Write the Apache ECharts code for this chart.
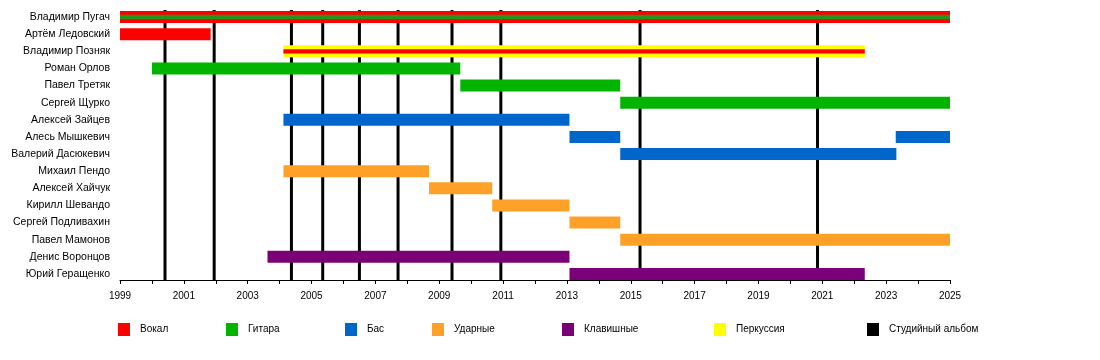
<!DOCTYPE html>
<html>
<head>
<meta charset="utf-8">
<script src="https://cdn.jsdelivr.net/npm/echarts@6/dist/echarts.min.js"></script>
<style>html,body{margin:0;padding:0;background:#fff}#c{width:1100px;height:360px}</style>
</head>
<body>
<div id="c"></div>
<script>
const members = ['Владимир Пугач','Артём Ледовский','Владимир Позняк','Роман Орлов','Павел Третяк','Сергей Щурко','Алексей Зайцев','Алесь Мышкевич','Валерий Дасюкевич','Михаил Пендо','Алексей Хайчук','Кирилл Шевандо','Сергей Подливахин','Павел Мамонов','Денис Воронцов','Юрий Геращенко'];
const vocals = [['Владимир Пугач',1999,2025],['Артём Ледовский',1999,2001.84]];
const vocalStripes = [['Владимир Позняк',2004.12,2022.33]];
const guitar = [['Роман Орлов',2000.0,2009.66],['Павел Третяк',2009.66,2014.67],['Сергей Щурко',2014.67,2025]];
const guitarStripes = [['Владимир Пугач',1999,2025]];
const bass = [['Алексей Зайцев',2004.12,2013.08],['Алесь Мышкевич',2013.08,2014.67],['Алесь Мышкевич',2023.3,2025],['Валерий Дасюкевич',2014.67,2023.32]];
const drums = [['Михаил Пендо',2004.12,2008.68],['Алексей Хайчук',2008.68,2010.66],['Кирилл Шевандо',2010.66,2013.08],['Сергей Подливахин',2013.08,2014.67],['Павел Мамонов',2014.67,2025]];
const keyboards = [['Денис Воронцов',2003.62,2013.08],['Юрий Геращенко',2013.08,2022.33]];
const percussion = [['Владимир Позняк',2004.12,2022.33]];
const albums = [2000.41,2001.95,2004.37,2005.35,2006.5,2007.71,2009.4,2010.93,2015.29,2020.85];
const legendNames = ['Вокал','Гитара','Бас','Ударные','Клавишные','Перкуссия','Студийный альбом'];

const FONT = 'Liberation Sans, Arial, sans-serif';

function barRender(frac) {
  return function (params, api) {
    const yi = api.value(0);
    const s = api.coord([api.value(1), yi]);
    const e = api.coord([api.value(2), yi]);
    const h = api.size([0, 1])[1] * frac;
    return { type: 'rect', shape: { x: s[0], y: s[1] - h / 2, width: e[0] - s[0], height: h }, style: { fill: api.visual('color') } };
  };
}
function barSeries(name, data, color, frac, z) {
  return { type: 'custom', name: name, data: data, encode: { x: [1, 2], y: 0 }, renderItem: barRender(frac), itemStyle: { color: color }, z: z, clip: false, silent: true };
}

const series = [
  { type: 'custom', name: 'Студийный альбом', data: albums.map(v => [v]), encode: { x: 0 }, itemStyle: { color: '#000' }, z: 1, clip: false, silent: true,
    renderItem: function (params, api) {
      const cs = params.coordSys;
      const x = api.coord([api.value(0), 0])[0];
      return { type: 'line', shape: { x1: x, y1: cs.y - 7, x2: x, y2: cs.y + cs.height + 6 }, style: { stroke: '#000', lineWidth: 3 } };
    } },
  barSeries('Вокал', vocals, '#ff0000', 0.7, 2),
  barSeries('Гитара', guitar, '#00b400', 0.7, 2),
  barSeries('Бас', bass, '#0066cc', 0.7, 2),
  barSeries('Ударные', drums, '#ffa028', 0.7, 2),
  barSeries('Клавишные', keyboards, '#7a0078', 0.7, 2),
  barSeries('Перкуссия', percussion, '#ffff00', 0.7, 2),
  barSeries('Гитара', guitarStripes, '#22961a', 0.25, 3),
  barSeries('Вокал', vocalStripes, '#ff0000', 0.25, 3)
];

const legendLeft = [118, 226, 345, 432, 562, 714, 867];
const legends = legendNames.map((n, i) => ({
  data: [n], left: legendLeft[i], top: 323, padding: 0, icon: 'rect', itemWidth: 12, itemHeight: 13,
  selectedMode: false, textStyle: { fontSize: 10, color: '#000', fontFamily: FONT, padding: [2, 0, 0, 5] }
}));

const chart = echarts.init(document.getElementById('c'), null, { renderer: 'canvas' });
chart.setOption({
  animation: false,
  backgroundColor: '#fff',
  textStyle: { fontFamily: FONT },
  grid: { left: 120, right: 150, top: 17, bottom: 86 },
  legend: legends,
  xAxis: {
    type: 'value', min: 1999, max: 2025, interval: 2, offset: 6,
    splitLine: { show: false },
    axisLine: { show: true, lineStyle: { color: '#000', width: 1 } },
    axisTick: { show: true, length: 4, lineStyle: { color: '#000' } },
    minorTick: { show: true, splitNumber: 2, length: 4, lineStyle: { color: '#000' } },
    axisLabel: { fontSize: 10, color: '#000', margin: 11, fontFamily: FONT, formatter: v => String(v) }
  },
  yAxis: {
    type: 'category', data: members, inverse: true, boundaryGap: false,
    axisLine: { show: false }, axisTick: { show: false }, splitLine: { show: false },
    axisLabel: { interval: 0, fontSize: 10.5, color: '#000', margin: 10, fontFamily: FONT }
  },
  series: series
});
</script>
</body>
</html>
